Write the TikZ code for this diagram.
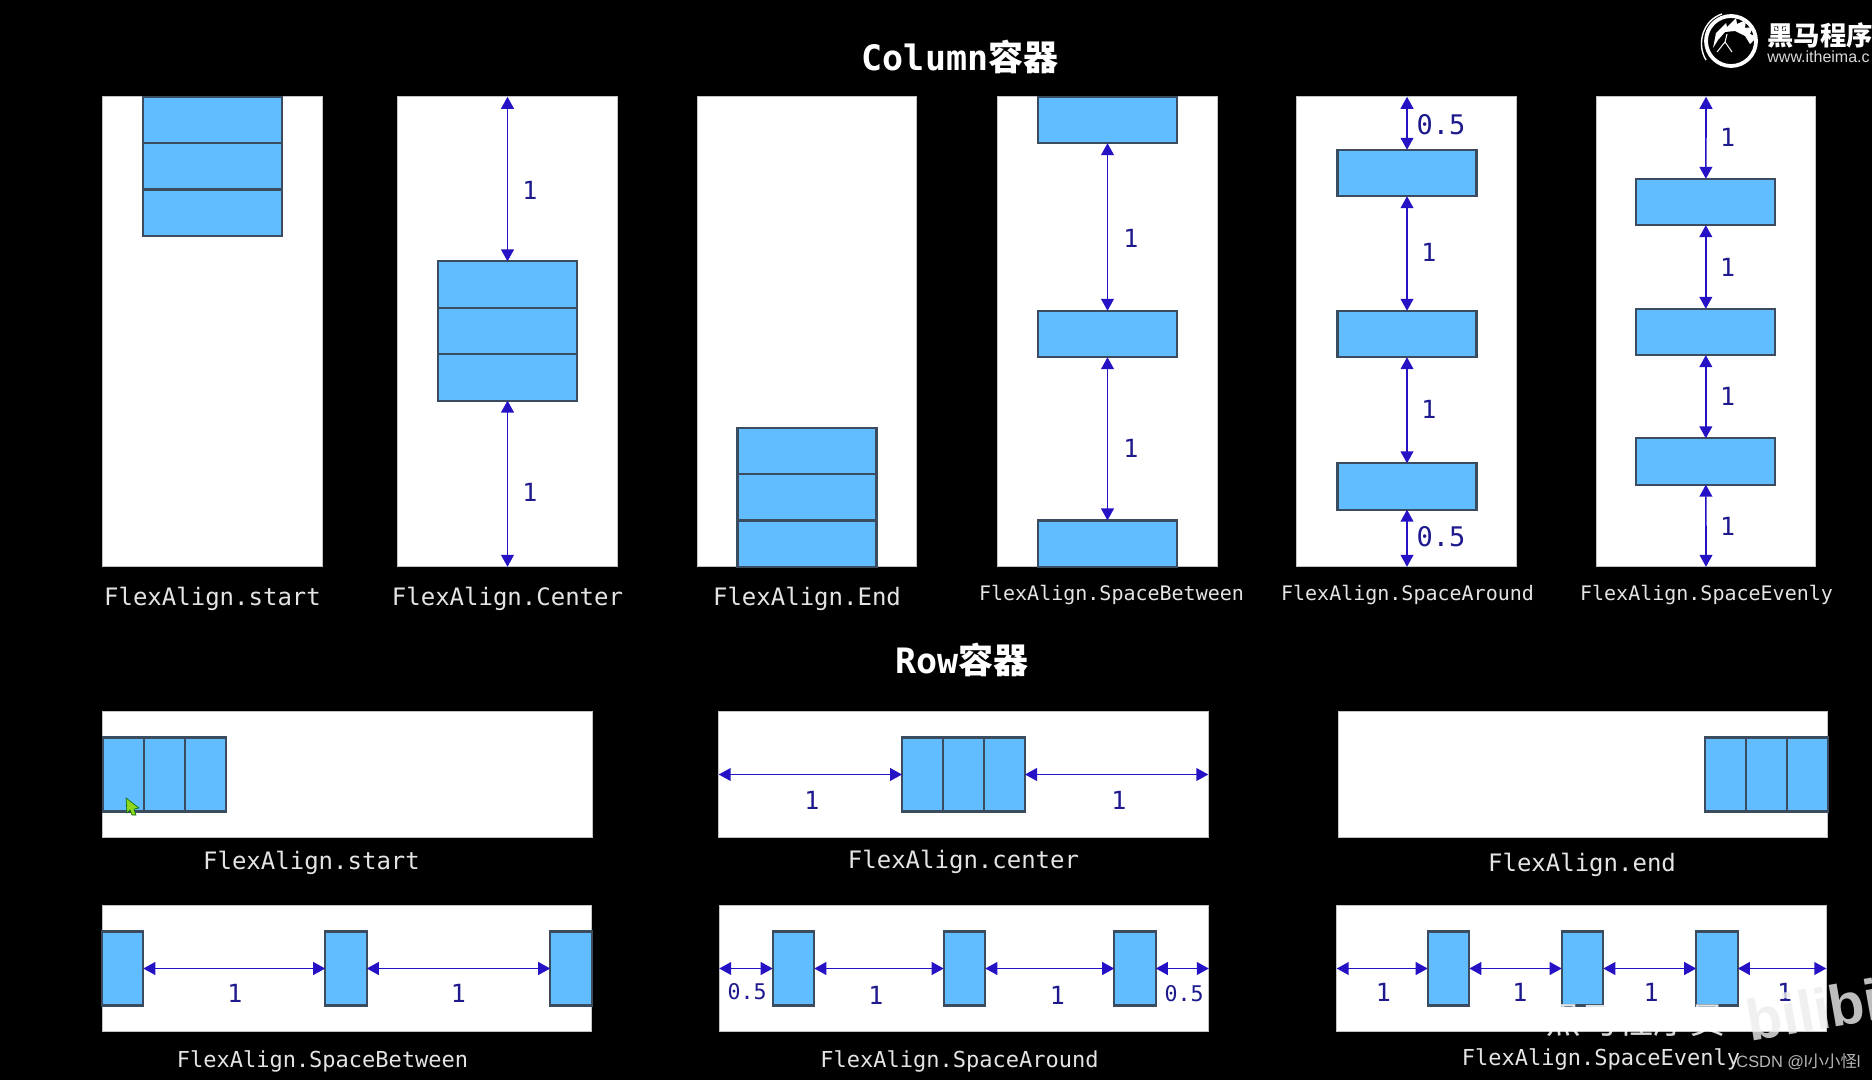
\documentclass[tikz,border=0pt]{standalone}
\usepackage{fontspec}
\setmainfont{Liberation Sans}
\setmonofont{DejaVu Sans Mono}
\newfontfamily\cjkfont{Noto Sans CJK SC}
\usepackage{xcolor}
\usepackage{tikz}
\usetikzlibrary{arrows.meta,positioning}
\definecolor{fxblue}{HTML}{61BDFF}
\definecolor{fxedge}{HTML}{3A4C5E}
\definecolor{fxarrow}{HTML}{2412C4}
\definecolor{fxnum}{HTML}{1E1A8E}
\definecolor{fxpanel}{HTML}{BFC3C6}
\definecolor{fxlabel}{HTML}{E4E4E4}
\definecolor{fxcursor}{HTML}{8FD61E}
\tikzset{
  panel/.style={
    draw=fxpanel,
    fill=white,
    line width=.5pt,
    inner sep=0pt,
    outer sep=0pt
  },
  colpanel/.style={panel, minimum width=109.6pt, minimum height=235pt},
  rowpanel/.style={panel, minimum width=244.8pt, minimum height=63.3pt},
  item/.style={
    draw=fxedge,
    fill=fxblue,
    line width=1.1pt,
    inner sep=0pt,
    outer sep=0pt
  },
  colitem/.style={item, minimum width=69.5pt, minimum height=23.2pt},
  rowitem/.style={item, minimum width=20.8pt, minimum height=37pt},
  gap/.style={
    {Triangle[length=6pt,width=6.4pt]}-{Triangle[length=6pt,width=6.4pt]},
    line width=.8pt,
    draw=fxarrow
  },
  gaplabel/.style={font=\ttfamily\fontsize{12.5}{14}\selectfont, text=fxnum, inner sep=0pt},
  halflabel/.style={font=\ttfamily\fontsize{13.5}{15}\selectfont, text=fxnum, inner sep=0pt},
  smallhalf/.style={font=\ttfamily\fontsize{10.8}{12}\selectfont, text=fxnum, inner sep=0pt},
  caption/.style={font=\ttfamily\fontsize{12}{14}\selectfont, text=fxlabel, inner sep=0pt},
  colcaption/.style={font=\ttfamily\fontsize{10}{12}\selectfont, text=fxlabel, inner sep=0pt},
  rowcaption/.style={font=\ttfamily\fontsize{11}{13}\selectfont, text=fxlabel, inner sep=0pt},
  titletext/.style={font=\ttfamily\bfseries\fontsize{17.5}{20}\selectfont, text=white, inner sep=0pt}
}

\begin{document}
\begin{tikzpicture}[x=.5pt,y=-.5pt]
  \useasboundingbox (0,0) rectangle (1872,1080);
  \fill[black] (0,0) rectangle (1872,1080);

  \node[titletext] (coltitle) at (960,57) {Column{\cjkfont 容器}};
  \node[titletext] (rowtitle) at (962,660) {Row{\cjkfont 容器}};

  \node[colpanel] (cstart) at (212.5,331.8) {};
  \node[colitem, below=0pt of cstart.north] (cstartA) {};
  \node[colitem, below=0pt of cstartA] (cstartB) {};
  \node[colitem, below=0pt of cstartB] (cstartC) {};
  \node[caption] (cstartcap) at (212.5,598.4) {FlexAlign.start};

  \node[colpanel] (ccenter) at (507.5,331.8) {};
  \node[colitem] (ccenterB) at (507.5,331) {};
  \node[colitem, above=0pt of ccenterB] (ccenterA) {};
  \node[colitem, below=0pt of ccenterB] (ccenterC) {};
  \draw[gap] (ccenter.north) -- (ccenterA.north);
  \draw[gap] (ccenterC.south) -- (ccenter.south);
  \node[gaplabel] (ccentergapA) at (530,190) {1};
  \node[gaplabel] (ccentergapB) at (530,492) {1};
  \node[caption] (ccentercap) at (507.5,598.4) {FlexAlign.Center};

  \node[colpanel] (cend) at (807,331.8) {};
  \node[colitem, above=0pt of cend.south] (cendC) {};
  \node[colitem, above=0pt of cendC] (cendB) {};
  \node[colitem, above=0pt of cendB] (cendA) {};
  \node[caption] (cendcap) at (807,598.4) {FlexAlign.End};

  \node[colpanel] (cbetween) at (1107.5,331.8) {};
  \node[colitem, below=0pt of cbetween.north] (cbetweenA) {};
  \node[colitem] (cbetweenB) at (1107.5,334) {};
  \node[colitem, above=0pt of cbetween.south] (cbetweenC) {};
  \draw[gap] (cbetweenA) -- (cbetweenB);
  \draw[gap] (cbetweenB) -- (cbetweenC);
  \node[gaplabel] (cbetweengapA) at (1131,238) {1};
  \node[gaplabel] (cbetweengapB) at (1131,448) {1};
  \node[colcaption] (cbetweencap) at (1111.5,595) {FlexAlign.SpaceBetween};

  \node[colpanel] (caround) at (1406.5,331.8) {};
  \node[colitem] (caroundA) at (1407,173) {};
  \node[colitem] (caroundB) at (1407,334) {};
  \node[colitem] (caroundC) at (1407,486.5) {};
  \draw[gap] (caroundA.north |- caround.north) -- (caroundA);
  \draw[gap] (caroundA) -- (caroundB);
  \draw[gap] (caroundB) -- (caroundC);
  \draw[gap] (caroundC) -- (caroundC.south |- caround.south);
  \node[halflabel] (caroundgapA) at (1441,125) {0.5};
  \node[gaplabel] (caroundgapB) at (1429,252) {1};
  \node[gaplabel] (caroundgapC) at (1429,409.5) {1};
  \node[halflabel] (caroundgapD) at (1441,537) {0.5};
  \node[colcaption] (caroundcap) at (1407.5,595) {FlexAlign.SpaceAround};

  \node[colpanel] (cevenly) at (1706,331.8) {};
  \node[colitem] (cevenlyA) at (1705.8,202) {};
  \node[colitem] (cevenlyB) at (1705.8,332) {};
  \node[colitem] (cevenlyC) at (1705.8,461.5) {};
  \draw[gap] (cevenly.north) -- (cevenlyA);
  \draw[gap] (cevenlyA) -- (cevenlyB);
  \draw[gap] (cevenlyB) -- (cevenlyC);
  \draw[gap] (cevenlyC) -- (cevenly.south);
  \node[gaplabel] (cevenlygapA) at (1727.5,137) {1};
  \node[gaplabel] (cevenlygapB) at (1727.5,267.5) {1};
  \node[gaplabel] (cevenlygapC) at (1727.5,396) {1};
  \node[gaplabel] (cevenlygapD) at (1727.5,526.5) {1};
  \node[colcaption] (cevenlycap) at (1706.5,595) {FlexAlign.SpaceEvenly};

  \node[rowpanel] (rstart) at (347.5,774.5) {};
  \node[rowitem, minimum width=20.5pt, right=0pt of rstart.west] (rstartA) {};
  \node[rowitem, minimum width=20.5pt, right=0pt of rstartA] (rstartB) {};
  \node[rowitem, minimum width=20.5pt, right=0pt of rstartB] (rstartC) {};
  \node[caption] (rstartcap) at (311.5,863) {FlexAlign.start};

  \node[rowpanel] (rcenter) at (963.5,774.5) {};
  \node[rowitem, minimum width=20.5pt] (rcenterB) at (963.5,774.5) {};
  \node[rowitem, minimum width=20.5pt, left=0pt of rcenterB] (rcenterA) {};
  \node[rowitem, minimum width=20.5pt, right=0pt of rcenterB] (rcenterC) {};
  \draw[gap] (rcenter.west) -- (rcenterA);
  \draw[gap] (rcenterC) -- (rcenter.east);
  \node[gaplabel] (rcentergapA) at (812,800) {1};
  \node[gaplabel] (rcentergapB) at (1119,800) {1};
  \node[caption] (rcentercap) at (963.5,861.5) {FlexAlign.center};

  \node[rowpanel] (rend) at (1583,774.5) {};
  \node[rowitem, minimum width=20.5pt, left=0pt of rend.east] (rendC) {};
  \node[rowitem, minimum width=20.5pt, left=0pt of rendC] (rendB) {};
  \node[rowitem, minimum width=20.5pt, left=0pt of rendB] (rendA) {};
  \node[caption] (rendcap) at (1582,864.5) {FlexAlign.end};

  \node[rowpanel] (rbetween) at (347,968.5) {};
  \node[rowitem] (rbetweenA) at (122.5,968.5) {};
  \node[rowitem] (rbetweenB) at (346,968.5) {};
  \node[rowitem] (rbetweenC) at (571,968.5) {};
  \draw[gap] (rbetweenA) -- (rbetweenB);
  \draw[gap] (rbetweenB) -- (rbetweenC);
  \node[gaplabel] (rbetweengapA) at (235,993) {1};
  \node[gaplabel] (rbetweengapB) at (458.5,993) {1};
  \node[rowcaption] (rbetweencap) at (322.5,1061) {FlexAlign.SpaceBetween};

  \node[rowpanel] (raround) at (964,968.5) {};
  \node[rowitem] (raroundA) at (793.5,968.5) {};
  \node[rowitem] (raroundB) at (964.5,968.5) {};
  \node[rowitem] (raroundC) at (1135,968.5) {};
  \draw[gap] (raround.west) -- (raroundA);
  \draw[gap] (raroundA) -- (raroundB);
  \draw[gap] (raroundB) -- (raroundC);
  \draw[gap] (raroundC) -- (raround.east);
  \node[smallhalf] (raroundgapA) at (747,992) {0.5};
  \node[gaplabel] (raroundgapB) at (876,995) {1};
  \node[gaplabel] (raroundgapC) at (1057.5,995) {1};
  \node[smallhalf] (raroundgapD) at (1184,994) {0.5};
  \node[rowcaption] (raroundcap) at (959.5,1061) {FlexAlign.SpaceAround};

  \node[rowpanel] (revenly) at (1581.5,968.5) {};
  \node[rowitem] (revenlyA) at (1448.5,968.5) {};
  \node[rowitem] (revenlyB) at (1582.5,968.5) {};
  \node[rowitem] (revenlyC) at (1717,968.5) {};
  \draw[gap] (revenly.west) -- (revenlyA);
  \draw[gap] (revenlyA) -- (revenlyB);
  \draw[gap] (revenlyB) -- (revenlyC);
  \draw[gap] (revenlyC) -- (revenly.east);
  \node[gaplabel] (revenlygapA) at (1383.5,992) {1};
  \node[gaplabel] (revenlygapB) at (1520,992) {1};
  \node[gaplabel] (revenlygapC) at (1651,992) {1};
  \node[gaplabel] (revenlygapD) at (1784.5,992) {1};
  \node[rowcaption] (revenlycap) at (1601,1059) {FlexAlign.SpaceEvenly};

  \fill[fxcursor, draw=black!60!green, line width=.3pt] (126,798) -- (139,808) -- (134,809) -- (136,815) -- (132,815) -- (130,810) -- (127,813) -- cycle;

  \draw[white, line width=1.9pt] (1731,41) circle (25);
  \draw[white, line width=.7pt] (1722,14) .. controls (1703,20) and (1696,44) .. (1706,60);
  \fill[white] (1713,48) -- (1716,33) -- (1726,23) -- (1727,27) -- (1736,18) -- (1737,24) -- (1746,20) -- (1745,28) -- (1753,27) -- (1750,34) -- (1757,37) -- (1750,44) -- (1745,36) -- (1735,31) -- (1725,32) -- (1718,40) -- cycle;
  \draw[white, line width=.5pt] (1727,34) -- (1725,42) -- (1717,52);
  \draw[white, line width=.5pt] (1725,42) -- (1732,52);
  \node[font=\cjkfont\bfseries\fontsize{13.2}{15}\selectfont, text=white, inner sep=0pt, anchor=west] (logoname) at (1767,35) {黑马程序};
  \node[font=\fontsize{8}{10}\selectfont, text=white!85!black, inner sep=0pt, anchor=west] (logourl) at (1767,57) {www.itheima.c};

  \node[font=\cjkfont\fontsize{18}{20}\selectfont, text=white, opacity=.85, inner sep=0pt] (markname) at (1635,1020) {黑马程序员};
  \node[font=\bfseries\fontsize{29}{32}\selectfont, text=white!93!black, opacity=.8, inner sep=0pt, anchor=base west, rotate=10] (markbili) at (1750,1042) {bilibili};
  \node[font=\fontsize{8.2}{10}\selectfont, text=white!72!black, inner sep=0pt, anchor=west] (csdnmark) at (1736,1061.5) {CSDN @l{\cjkfont 小小怪}l};
\end{tikzpicture}
\end{document}
